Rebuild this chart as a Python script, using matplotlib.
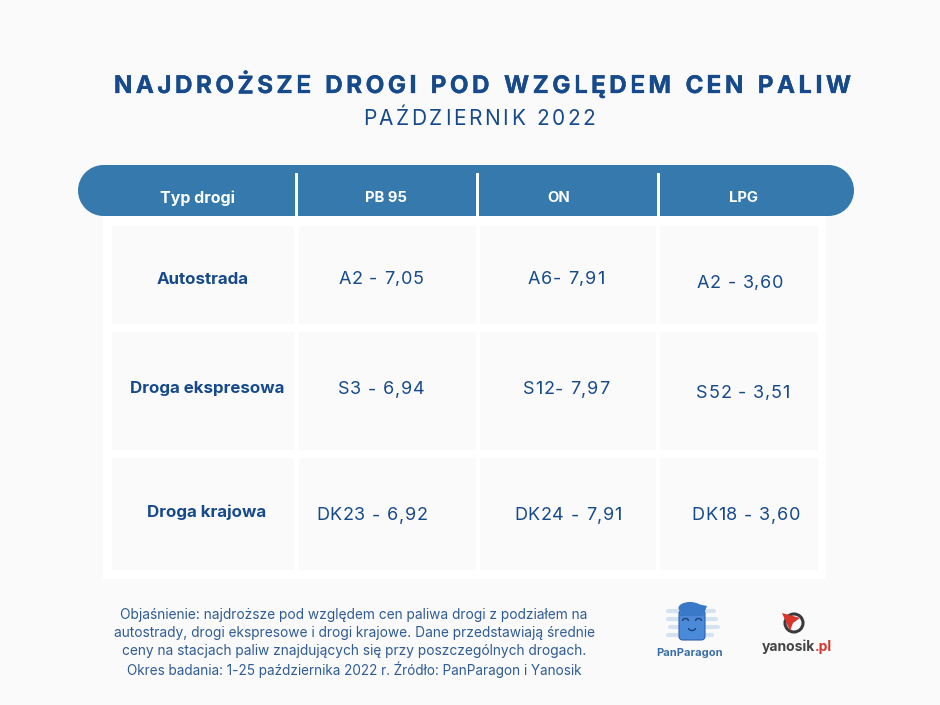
import matplotlib
matplotlib.use("Agg")
import matplotlib.pyplot as plt
import matplotlib.patheffects as pe
from matplotlib.patches import FancyBboxPatch, Rectangle, Circle, Ellipse, Polygon, Arc

plt.rcParams['font.family'] = ['Inter', 'DejaVu Sans']

title = "NAJDROŻSZE DROGI POD WZGLĘDEM CEN PALIW"
subtitle = "PAŹDZIERNIK 2022"
columns = ["Typ drogi", "PB 95", "ON", "LPG"]
road_types = ["Autostrada", "Droga ekspresowa", "Droga krajowa"]
pb95 = ["A2 - 7,05", "S3 - 6,94", "DK23 - 6,92"]
on = ["A6- 7,91", "S12- 7,97", "DK24 - 7,91"]
lpg = ["A2 - 3,60", "S52 - 3,51", "DK18 - 3,60"]
note = ["Objaśnienie: najdroższe pod względem cen paliwa drogi z podziałem na",
        "autostrady, drogi ekspresowe i drogi krajowe. Dane przedstawiają średnie",
        "ceny na stacjach paliw znajdujących się przy poszczególnych drogach.",
        "Okres badania: 1-25 października 2022 r. Źródło: PanParagon i Yanosik"]

BG = "#fafafa"
BLUE = "#3579ad"
NAVY = "#174a8b"
CELL = "#fafafa"

fig = plt.figure(figsize=(9.4, 7.05), dpi=100, facecolor=BG)
ax = fig.add_axes([0, 0, 1, 1])
ax.set_xlim(0, 940)
ax.set_ylim(705, 0)
ax.axis("off")

# a thin outline to get closer to the heavier bold of the original
heavy = [pe.withStroke(linewidth=0.2, foreground=NAVY)]


# matplotlib has no letter spacing, so place the letters one by one
def spaced_text(s, xc, yc, gap, space=0.5, **kw):
    r = fig.canvas.get_renderer()
    widths = []
    for ch in s:
        t = ax.text(0, 0, "n" if ch == " " else ch, **kw)
        w = t.get_window_extent(r).width
        widths.append(w * space if ch == " " else w)
        t.remove()
    total = sum(widths) + gap * (len(s) - 1)
    x = xc - total / 2
    for ch, w in zip(s, widths):
        ax.text(x, yc, ch, ha="left", va="center_baseline", **kw)
        x += w + gap


spaced_text(title, 482.5, 84, 3.4, fontsize=17.5, fontweight="bold", color=NAVY, path_effects=heavy)
spaced_text(subtitle, 479, 117, 2.6, fontsize=15, color=NAVY)

# table background and header, round ends done with circles
ax.add_patch(Rectangle((103, 195), 723, 384, fc="white", ec="none"))
ax.add_patch(Circle((103.5, 190.5), 25.5, fc=BLUE, ec="none"))
ax.add_patch(Circle((828.5, 190.5), 25.5, fc=BLUE, ec="none"))
ax.add_patch(Rectangle((103.5, 165), 725, 51, fc=BLUE, ec="none"))
for x in [295, 476, 657]:
    ax.add_patch(Rectangle((x, 173), 3, 43, fc="white", ec="none"))

# cells
col_edges = [(112, 294), (299, 476), (480, 656), (660, 818)]
row_edges = [(226, 324), (332, 450), (458, 570)]
for x0, x1 in col_edges:
    for y0, y1 in row_edges:
        ax.add_patch(Rectangle((x0, y0), x1 - x0, y1 - y0, fc=CELL, ec="none"))

# header labels
head_x = [197.5, 386, 559, 743]
head_y = [198, 198, 198, 198]
head_size = [11.5, 10.7, 10.7, 10.7]
for s, x, y, fs in zip(columns, head_x, head_y, head_size):
    ax.text(x, y, s, ha="center", va="center", color="white", fontweight="bold", fontsize=fs)

# first column
road_x = [203, 207, 207]
road_y = [279, 388, 512]
for s, x, y in zip(road_types, road_x, road_y):
    ax.text(x, y, s, ha="center", va="center", color=NAVY, fontweight="bold", fontsize=12.2)

# values, the positions in the original are not regular
pb_x, pb_y = [381, 381, 372], [277, 388, 514]
on_x, on_y = [566, 566, 568], [277, 388, 514]
lpg_x, lpg_y = [740, 743, 746], [281, 391, 514]
for labels, xs, ys in [(pb95, pb_x, pb_y), (on, on_x, on_y), (lpg, lpg_x, lpg_y)]:
    for s, x, y in zip(labels, xs, ys):
        spaced_text(s, x, y, 0.7, fontsize=13, color=NAVY)

# note under the table
note_y = [615, 633, 651, 670]
note_size = [9.9, 9.9, 9.9, 9.75]
for s, y, fs in zip(note, note_y, note_size):
    ax.text(354, y, s, ha="center", va="center", color="#2f5c94", fontsize=fs)

# PanParagon logo
for y, x0, x1 in [(611, 668, 714), (619, 668, 716), (627, 670, 718), (635, 668, 712)]:
    ax.plot([x0, x1], [y, y], color="#d5e2f0", lw=3, solid_capstyle="round", zorder=2)
ax.add_patch(FancyBboxPatch((679, 610), 26, 30, boxstyle="round,pad=0,rounding_size=4",
                            fc="#4a8ad8", ec="#2c62ad", lw=0.8, zorder=3))
ax.add_patch(Ellipse((690, 608), 23, 12, fc="#3a78c8", ec="none", zorder=4))
ax.add_patch(Polygon([(688, 602), (707, 606), (703, 616), (679, 616)], fc="#3a78c8", ec="none", zorder=4))
ax.add_patch(Arc((685.5, 621), 6, 5, theta1=180, theta2=360, color="#1d3f77", lw=1, zorder=5))
ax.add_patch(Arc((698.5, 621), 6, 5, theta1=180, theta2=360, color="#1d3f77", lw=1, zorder=5))
ax.add_patch(Arc((692, 628), 7, 5, theta1=0, theta2=180, color="#1d3f77", lw=1, zorder=5))
ax.text(690, 653, "PanParagon", ha="center", va="center", color="#3a6ea8", fontsize=8, fontweight="bold")

# yanosik logo
ax.add_patch(Circle((794, 623), 9, fc="none", ec="#3a3a3a", lw=2.2, zorder=3))
ax.add_patch(Polygon([(782, 613), (800, 618), (793, 623), (790, 631)], fc="#d8342c", ec="none", zorder=4))
ax.text(815, 647, "yanosik", ha="right", va="center", color="#444444", fontsize=10, fontweight="bold")
ax.text(815, 647, ".pl", ha="left", va="center", color="#d8342c", fontsize=10, fontweight="bold")

fig.savefig("out.png", dpi=100, facecolor=BG)
